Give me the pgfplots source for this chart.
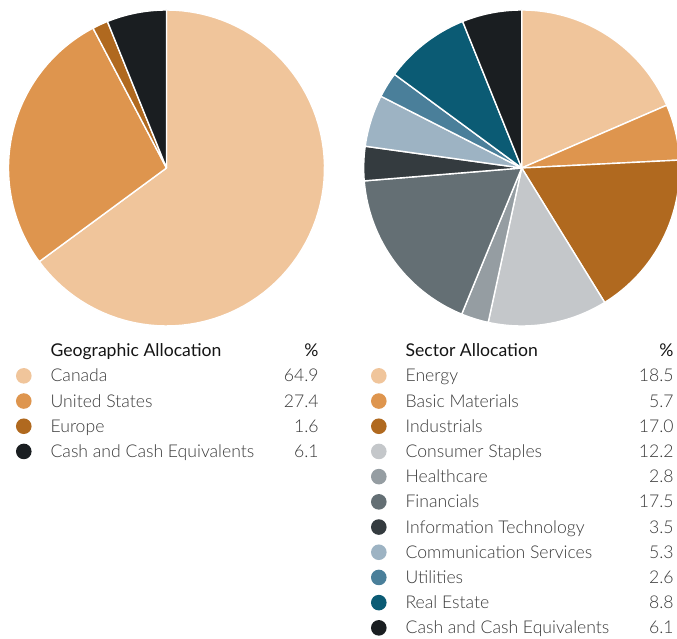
\documentclass[border=0pt]{standalone}
\usepackage{pgfplots}
\pgfplotsset{compat=1.18}
\usepackage{pgfplotstable}
\usepackage{fontspec}
\setmainfont{Lato}
\newfontfamily\lightfont{Lato Light}
\definecolor{cA}{HTML}{F0C59B}
\definecolor{cB}{HTML}{DE954E}
\definecolor{cC}{HTML}{B0691F}
\definecolor{cD}{HTML}{1A1E21}
\definecolor{sD}{HTML}{C4C7CA}
\definecolor{sE}{HTML}{959DA2}
\definecolor{sF}{HTML}{646F74}
\definecolor{sG}{HTML}{343B3F}
\definecolor{sH}{HTML}{9DB3C3}
\definecolor{sI}{HTML}{4A7F9A}
\definecolor{sJ}{HTML}{0B5B74}
\definecolor{itemgray}{HTML}{3A3A3A}
\definecolor{headblack}{HTML}{141414}

\pgfplotstableread[col sep=comma]{
name,value,color
Canada,64.9,cA
United States,27.4,cB
Europe,1.6,cC
Cash and Cash Equivalents,6.1,cD
}\geo

\pgfplotstableread[col sep=comma]{
name,value,color
Energy,18.5,cA
Basic Materials,5.7,cB
Industrials,17.0,cC
Consumer Staples,12.2,sD
Healthcare,2.8,sE
Financials,17.5,sF
Information Technology,3.5,sG
Communication Services,5.3,sH
Utilities,2.6,sI
Real Estate,8.8,sJ
Cash and Cash Equivalents,6.1,cD
}\sector

\pgfplotsset{
  legend image code/.code={\fill[#1,draw=none] (0pt,2pt) circle (7.8pt);},
  pieaxis/.style={
    x=158pt, y=158pt, scale only axis, hide axis, clip=false,
    xmin=-1, xmax=1, ymin=-1, ymax=1,
    anchor=south west,
    legend cell align=left,
    legend style={draw=none, fill=none, inner sep=0pt, outer sep=0pt,
      anchor=north west, row sep=7.4pt, column sep=19pt,
      nodes={inner sep=0pt, text height=12pt, text depth=4pt, text=itemgray},
      font=\fontsize{17.6}{20}\selectfont},
  },
}

\newcommand{\drawpie}[1]{%
  \pgfplotstablegetrowsof{#1}%
  \pgfmathtruncatemacro\lastrow{\pgfplotsretval-1}%
  \def\cum{0}%
  \pgfplotsforeachungrouped \i in {0,...,\lastrow}{%
    \pgfplotstablegetelem{\i}{value}\of{#1}\let\slval\pgfplotsretval
    \pgfplotstablegetelem{\i}{color}\of{#1}\let\slcol\pgfplotsretval
    \pgfplotstablegetelem{\i}{name}\of{#1}\let\slname\pgfplotsretval
    \pgfmathsetmacro\sa{90-3.6*\cum}%
    \pgfmathsetmacro\sb{90-3.6*(\cum+\slval)}%
    \pgfmathsetmacro\cum{\cum+\slval}%
    \edef\cmd{\noexpand\addplot[fill=\slcol, draw=white, line width=1.4pt, line join=round,
        domain=\sb:\sa, samples=80, variable=\noexpand\t]
        ({cos(\noexpand\t)},{sin(\noexpand\t)}) -- (axis cs:0,0) -- cycle;
      \noexpand\addlegendentry{\noexpand\makebox[268pt][l]{\noexpand\lightfont\slname\noexpand\hfill\slval}}}%
    \cmd
  }%
}

\begin{document}
\begin{tikzpicture}
\begin{axis}[pieaxis, at={(8.5pt,313pt)},
  legend style={at={(0.0237,-0.059)}}]
  \addlegendimage{empty legend}
  \addlegendentry{\makebox[268pt][l]{\color{headblack}Geographic Allocation\hfill\%}}
  \drawpie{\geo}
\end{axis}
\begin{axis}[pieaxis, at={(363.7pt,313pt)},
  legend style={at={(0.0231,-0.059)}}]
  \addlegendimage{empty legend}
  \addlegendentry{\makebox[268pt][l]{\color{headblack}Sector Allocation\hfill\%}}
  \drawpie{\sector}
\end{axis}
\pgfresetboundingbox
\path[use as bounding box] (0,0) rectangle (677pt,639pt);
\end{tikzpicture}
\end{document}
